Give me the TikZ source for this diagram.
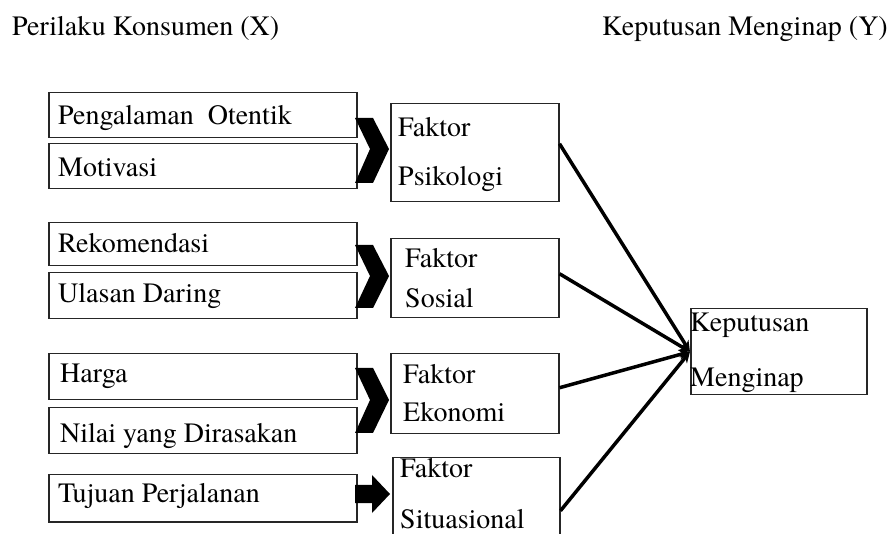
\documentclass[tikz,border=0pt]{standalone}
\usepackage{fontspec}
\setmainfont{texgyretermes}[Extension=.otf, UprightFont=*-regular, BoldFont=*-bold, ItalicFont=*-italic, BoldItalicFont=*-bolditalic]
\usetikzlibrary{arrows.meta,calc}
\begin{document}
\begin{tikzpicture}[x=1pt,y=-1pt,
  box/.style={draw=black!85, line width=1.5pt, rectangle, inner sep=0pt, anchor=north west},
  txt/.style={anchor=base west, inner sep=0pt, font=\fontsize{28}{32}\selectfont},
  link/.style={line width=3.5pt, -{Stealth[length=11pt,width=10pt]}},
  chev/.style={fill=black}]
\useasboundingbox (0,0) rectangle (892,534);
\fill[white] (0,0) rectangle (892,534);
% titles
\node[txt] (tx) at (12,36) {Perilaku Konsumen (X)};
\node[txt] (ty) at (602,36) {Keputusan Menginap (Y)};
% left boxes
\node[box, minimum width=308pt, minimum height=45pt] (b1) at (48,92) {};
\node[box, minimum width=308pt, minimum height=45pt] (b2) at (48,143) {};
\node[box, minimum width=308pt, minimum height=43pt] (b3) at (48,222) {};
\node[box, minimum width=308pt, minimum height=46pt] (b4) at (48,272) {};
\node[box, minimum width=308pt, minimum height=46pt] (b5) at (48,353) {};
\node[box, minimum width=308pt, minimum height=46pt] (b6) at (48,407) {};
\node[box, minimum width=308pt, minimum height=47pt] (b7) at (48,474) {};
\node[txt] (t1) at (58,125) {Pengalaman\ \ Otentik};
\node[txt] (t2) at (58,177) {Motivasi};
\node[txt] (t3) at (58,253) {Rekomendasi};
\node[txt] (t4) at (58,303) {Ulasan Daring};
\node[txt] (t5) at (60,383) {Harga};
\node[txt] (t6) at (60,443) {Nilai yang Dirasakan};
\node[txt] (t7) at (58,503) {Tujuan Perjalanan};
% factor boxes
\node[box, minimum width=168pt, minimum height=98pt] (f1) at (390,103) {};
\node[box, minimum width=168pt, minimum height=79pt] (f2) at (390,238) {};
\node[box, minimum width=168pt, minimum height=80pt] (f3) at (390,353) {};
\node[box, minimum width=167pt, minimum height=90pt] (f4) at (392,457) {};
\node[txt] (f1a) at (398,137) {Faktor};
\node[txt] (f1b) at (398,186) {Psikologi};
\node[txt] (f2a) at (405,268) {Faktor};
\node[txt] (f2b) at (405,308) {Sosial};
\node[txt] (f3a) at (403,384) {Faktor};
\node[txt] (f3b) at (403,422) {Ekonomi};
\node[txt] (f4a) at (400,478) {Faktor};
\node[txt] (f4b) at (400,529) {Situasional};
% decision box
\node[box, minimum width=176pt, minimum height=86pt] (kp) at (690,308) {};
\node[txt] (kpa) at (690,332) {Keputusan};
\node[txt] (kpb) at (690,387) {Menginap};
% chevrons
\fill[chev] (355,118) -- (373,118) -- (389,149) -- (373,183) -- (355,183) -- (370,149) -- cycle;
\fill[chev] (355,245) -- (373,245) -- (389,276) -- (373,308) -- (355,308) -- (370,276) -- cycle;
\fill[chev] (355,368) -- (373,368) -- (389,400) -- (373,433) -- (355,433) -- (370,400) -- cycle;
\fill[chev] (355,485) -- (372,485) -- (372,475) -- (390,494) -- (372,513) -- (372,503) -- (355,503) -- cycle;
% links
\draw[link] ([yshift=9pt]f1.east) -- (kp.west);
\draw[link] ([yshift=4.5pt]f2.east) -- (kp.west);
\draw[link] ([yshift=6pt]f3.east) -- (kp.west);
\draw[link] ([yshift=-8pt]f4.east) -- (kp.west);
\end{tikzpicture}
\end{document}
